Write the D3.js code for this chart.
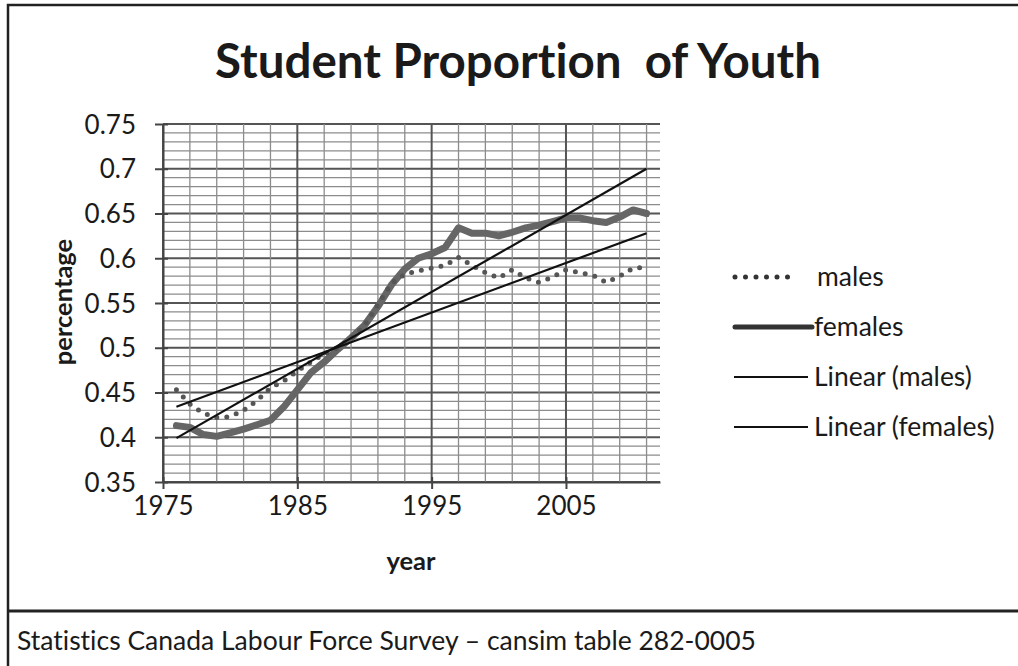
<!DOCTYPE html>
<head>
<meta charset="utf-8">
<style>
body { margin: 0; background: #fff; }
text { font-family: Lato, "Open Sans", sans-serif; fill: #1a1a1a; font-variant-ligatures: none; }
.grid-minor { stroke: #8c8c8c; stroke-width: 1.3px; }
.grid-major { stroke: #555; stroke-width: 2px; }
</style>
</head>
<body>
<script src="https://cdn.jsdelivr.net/npm/d3@7"></script>
<script>
var years = [1976, 1977, 1978, 1979, 1980, 1981, 1982, 1983, 1984, 1985, 1986, 1987,
  1988, 1989, 1990, 1991, 1992, 1993, 1994, 1995, 1996, 1997, 1998, 1999,
  2000, 2001, 2002, 2003, 2004, 2005, 2006, 2007, 2008, 2009, 2010, 2011];

var males = [0.453, 0.437, 0.427, 0.422, 0.423, 0.430, 0.441, 0.455, 0.463, 0.474, 0.484, 0.493,
  0.500, 0.510, 0.525, 0.548, 0.572, 0.582, 0.586, 0.589, 0.592, 0.601, 0.592, 0.584,
  0.578, 0.587, 0.578, 0.573, 0.579, 0.587, 0.584, 0.581, 0.573, 0.580, 0.589, 0.590];

var females = [0.413, 0.411, 0.403, 0.401, 0.405, 0.409, 0.414, 0.419, 0.434, 0.453, 0.472, 0.484,
  0.498, 0.511, 0.525, 0.546, 0.570, 0.588, 0.600, 0.605, 0.612, 0.634, 0.628, 0.628,
  0.625, 0.629, 0.634, 0.637, 0.641, 0.645, 0.645, 0.642, 0.640, 0.646, 0.654, 0.650];

// trendline end points
var trendYears = [1976, 2011];
var malesTrend = [0.434, 0.628];
var femalesTrend = [0.399, 0.700];

var yTicks = [0.35, 0.4, 0.45, 0.5, 0.55, 0.6, 0.65, 0.7, 0.75];
var xTicks = [1975, 1985, 1995, 2005];
var legendLabels = ["males", "females", "Linear (males)", "Linear (females)"];

var svg = d3.select("body").append("svg")
  .attr("width", 1018)
  .attr("height", 666);

svg.append("rect").attr("width", 1018).attr("height", 666).attr("fill", "#fff");

// frame
svg.append("path")
  .attr("d", "M8,666V5H1018")
  .attr("fill", "none").attr("stroke", "#222").attr("stroke-width", 2.5);
svg.append("line")
  .attr("x1", 8).attr("x2", 1018).attr("y1", 611).attr("y2", 611)
  .attr("stroke", "#222").attr("stroke-width", 3);

var x = d3.scaleLinear().domain([1975, 2012]).range([163, 660]);
var y = d3.scaleLinear().domain([0.35, 0.75]).range([482, 124]);

var g = svg.append("g");

// horizontal grid, every 0.01
var hMinor = d3.range(35, 76).map(function(d) { return d / 100; });
g.selectAll(".h").data(hMinor).enter().append("line")
  .attr("class", function(d) { return Math.round(d * 100) % 5 == 0 ? "grid-major" : "grid-minor"; })
  .attr("x1", x(1975)).attr("x2", x(2012))
  .attr("y1", function(d) { return y(d); })
  .attr("y2", function(d) { return y(d); });

// vertical grid, every 2 years
var vMinor = d3.range(1975, 2012, 2);
g.selectAll(".v").data(vMinor).enter().append("line")
  .attr("class", function(d) { return (d - 1975) % 10 == 0 ? "grid-major" : "grid-minor"; })
  .attr("x1", function(d) { return x(d); })
  .attr("x2", function(d) { return x(d); })
  .attr("y1", y(0.75)).attr("y2", y(0.35));

// axes
var yAxis = d3.axisLeft(y).tickValues(yTicks).tickSize(8).tickSizeOuter(0)
  .tickFormat(function(d) { return d3.format("")(+d.toFixed(2)); });
var ya = svg.append("g").attr("transform", "translate(163,0)").call(yAxis);
ya.select(".domain").attr("stroke", "#444").attr("stroke-width", 2);
ya.selectAll(".tick line").attr("stroke", "#444").attr("stroke-width", 2).attr("x2", 5).attr("x1", -8);
ya.selectAll(".tick text").attr("x", -27).attr("dy", "0.35em")
  .style("font-family", "Lato").style("font-size", "26px").attr("fill", "#1a1a1a");

var xAxis = d3.axisBottom(x).tickValues(xTicks).tickSize(8).tickSizeOuter(0).tickFormat(d3.format("d"));
var xa = svg.append("g").attr("transform", "translate(0,482)").call(xAxis);
xa.select(".domain").attr("stroke", "#444").attr("stroke-width", 2);
xa.selectAll(".tick line").attr("stroke", "#444").attr("stroke-width", 2).attr("y1", -5).attr("y2", 7);
xa.selectAll(".tick text").attr("y", 15).attr("dy", "0.71em")
  .style("font-family", "Lato").style("font-size", "26px").attr("fill", "#1a1a1a");

// series
var line = d3.line()
  .x(function(d) { return x(d[0]); })
  .y(function(d) { return y(d[1]); });

svg.append("path")
  .datum(d3.zip(years, females))
  .attr("d", line)
  .attr("fill", "none").attr("stroke", "#666").attr("stroke-width", 7)
  .attr("stroke-linejoin", "round").attr("stroke-linecap", "round");

svg.append("path")
  .datum(d3.zip(years, males))
  .attr("d", line)
  .attr("fill", "none").attr("stroke", "#555").attr("stroke-width", 5)
  .attr("stroke-dasharray", "0,10").attr("stroke-linecap", "round");

svg.append("path")
  .datum(d3.zip(trendYears, malesTrend))
  .attr("d", line)
  .attr("fill", "none").attr("stroke", "#111").attr("stroke-width", 2.2);

svg.append("path")
  .datum(d3.zip(trendYears, femalesTrend))
  .attr("d", line)
  .attr("fill", "none").attr("stroke", "#111").attr("stroke-width", 2.2);

// legend
var lg = svg.append("g");
var ly = [277, 327, 377, 427];
lg.append("line").attr("x1", 735).attr("x2", 797).attr("y1", ly[0]).attr("y2", ly[0])
  .attr("stroke", "#333").attr("stroke-width", 5).attr("stroke-dasharray", "0,10.5").attr("stroke-linecap", "round");
lg.append("line").attr("x1", 735).attr("x2", 812).attr("y1", ly[1]).attr("y2", ly[1])
  .attr("stroke", "#333").attr("stroke-width", 5).attr("stroke-linecap", "round");
lg.append("line").attr("x1", 734).attr("x2", 808).attr("y1", ly[2]).attr("y2", ly[2])
  .attr("stroke", "#111").attr("stroke-width", 2);
lg.append("line").attr("x1", 734).attr("x2", 808).attr("y1", ly[3]).attr("y2", ly[3])
  .attr("stroke", "#111").attr("stroke-width", 2);
lg.selectAll("text").data(legendLabels).enter().append("text")
  .attr("x", function(d, i) { return i == 0 ? 817 : 814; })
  .attr("y", function(d, i) { return ly[i]; })
  .attr("dy", "0.35em")
  .style("font-size", "26.5px")
  .text(function(d) { return d; });

// titles
svg.append("text")
  .attr("x", 518).attr("y", 78)
  .attr("text-anchor", "middle")
  .style("font-size", "47.5px").style("font-weight", "bold")
  .style("white-space", "pre")
  .text("Student Proportion  of Youth");

svg.append("text")
  .attr("transform", "translate(72,302) rotate(-90)")
  .attr("text-anchor", "middle")
  .style("font-size", "25.5px").style("font-weight", "bold")
  .text("percentage");

svg.append("text")
  .attr("x", 411).attr("y", 570)
  .attr("text-anchor", "middle")
  .style("font-size", "25.5px").style("font-weight", "bold")
  .text("year");

svg.append("text")
  .attr("x", 17).attr("y", 650)
  .style("font-size", "26.5px")
  .text("Statistics Canada Labour Force Survey \u2013 cansim table 282-0005");
</script>
</body>
